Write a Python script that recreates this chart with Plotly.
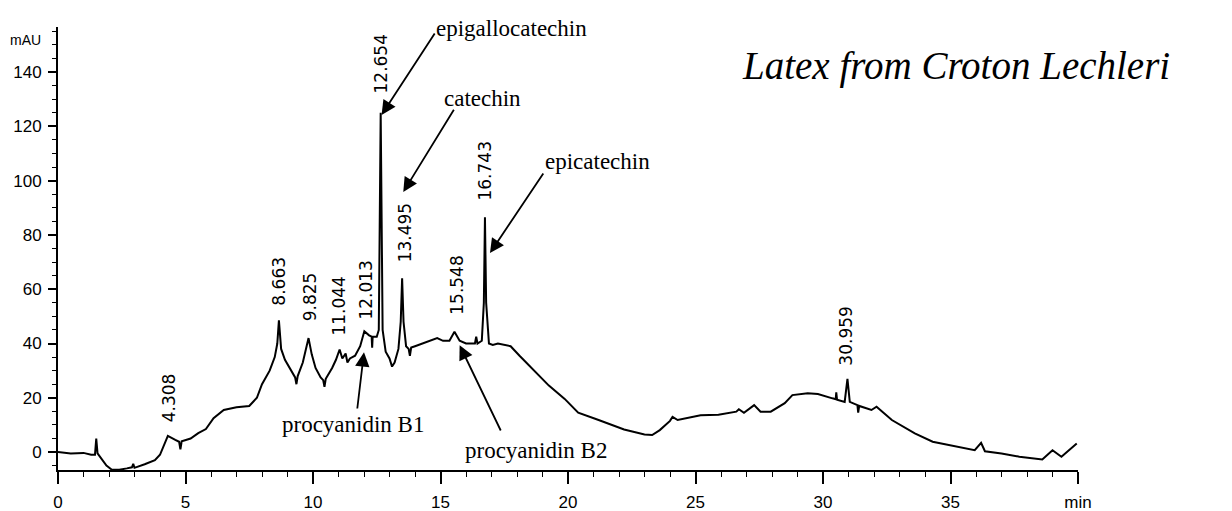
import plotly.graph_objects as go

# Chromatogram trace (retention time in min, absorbance in mAU)
time_min = [0.0, 0.5, 1.0, 1.3, 1.45, 1.5, 1.55, 1.7, 1.9, 2.1, 2.4, 2.7, 2.9, 2.95, 3.0, 3.4, 3.8, 4.0,
            4.308, 4.6, 4.75, 4.8, 4.85, 5.2, 5.5, 5.8, 6.1, 6.5, 7.0, 7.5, 7.8, 8.0, 8.3, 8.5, 8.6,
            8.663, 8.75, 8.9, 9.1, 9.3, 9.35, 9.4, 9.6, 9.825, 9.95, 10.1, 10.3, 10.4, 10.45, 10.5,
            10.75, 10.9, 11.044, 11.15, 11.28, 11.35, 11.45, 11.65, 11.85, 12.013, 12.2, 12.3, 12.32,
            12.34, 12.5, 12.58, 12.654, 12.73, 12.85, 13.0, 13.1, 13.2, 13.35, 13.44, 13.495, 13.55,
            13.65, 13.75, 13.8, 13.85, 14.0, 14.3, 14.6, 14.87, 15.1, 15.35, 15.548, 15.75, 16.0,
            16.35, 16.4, 16.45, 16.62, 16.7, 16.743, 16.79, 16.9, 17.05, 17.25, 17.5, 17.75, 18.1,
            18.6, 19.25, 19.87, 20.4, 21.2, 22.2, 23.0, 23.3, 23.6, 24.0, 24.1, 24.3, 25.2, 25.9,
            26.6, 26.7, 26.9, 27.3, 27.55, 27.95, 28.5, 28.8, 29.4, 29.8, 30.37, 30.5, 30.52, 30.55,
            30.85, 30.959, 31.05, 31.35, 31.38, 31.42, 31.9, 32.1, 32.7, 33.6, 34.3, 35.0, 35.95,
            36.2, 36.35, 37.0, 37.7, 38.6, 39.0, 39.35, 39.95]
absorbance_mau = [0.0, -0.5, -0.3, -1.0, -1.0, 5.0, -0.5, -2.5, -5.0, -6.4, -6.5, -6.0, -5.6, -4.3, -5.8,
                  -4.5, -3.0, -1.0, 6.0, 4.5, 3.8, 1.0, 4.0, 5.0, 7.0, 8.5, 12.5, 15.5, 16.5, 17.0, 20.0,
                  25.0, 30.0, 35.0, 40.0, 48.5, 38.0, 34.0, 31.0, 27.5, 25.0, 28.0, 33.0, 42.0, 36.0,
                  31.0, 27.5, 26.5, 24.0, 27.0, 31.0, 34.0, 37.8, 34.5, 36.3, 33.0, 34.5, 35.5, 39.0,
                  44.5, 43.0, 42.5, 38.5, 42.5, 42.5, 45.0, 125.0, 45.0, 37.0, 34.5, 31.5, 33.0, 38.0,
                  48.0, 64.0, 48.0, 39.0, 38.0, 35.5, 38.5, 39.0, 40.0, 41.0, 42.0, 41.0, 41.0, 44.3,
                  41.0, 40.0, 40.0, 42.5, 40.0, 41.0, 55.0, 86.5, 55.0, 40.0, 39.5, 40.0, 39.5, 39.0,
                  35.5, 30.7, 24.5, 19.6, 14.5, 11.8, 8.3, 6.5, 6.3, 8.1, 11.5, 13.0, 11.8, 13.6, 13.8,
                  14.9, 15.8, 14.5, 17.3, 14.9, 14.9, 18.0, 21.0, 21.7, 21.4, 19.8, 19.5, 22.0, 19.3,
                  18.5, 27.0, 18.5, 17.3, 14.5, 17.0, 15.5, 16.7, 11.8, 6.9, 3.8, 2.6, 0.7, 3.4, 0.3,
                  -0.5, -1.7, -2.7, 0.7, -1.7, 3.2]

# Peak retention-time labels
peak_labels = ["4.308", "8.663", "9.825", "11.044", "12.013", "12.654", "13.495", "15.548", "16.743", "30.959"]
peak_label_x = [4.36, 8.65, 9.89, 11.04, 12.06, 12.65, 13.62, 15.67, 16.76, 30.92]
peak_label_y = [19.9, 63.0, 57.1, 53.8, 59.7, 143.0, 80.7, 61.5, 103.5, 42.7]

# Compound names with arrows
compounds = ["epigallocatechin", "catechin", "epicatechin", "procyanidin B1", "procyanidin B2"]
compound_text_x = [17.8, 16.64, 21.16, 11.58, 18.73]
compound_text_y = [156.2, 130.4, 107.2, 10.3, 0.7]
arrow_tail_x = [14.81, 15.56, 19.07, 11.73, 17.39]
arrow_tail_y = [154.8, 126.7, 103.2, 15.5, 7.4]
arrow_tip_x = [12.69, 13.54, 16.94, 12.0, 15.75]
arrow_tip_y = [124.2, 95.8, 73.3, 36.8, 39.4]

x_tick_vals = [0, 5, 10, 15, 20, 25, 30, 35, 40]
x_tick_text = ["0", "5", "10", "15", "20", "25", "30", "35", "min"]
y_tick_vals = [0, 20, 40, 60, 80, 100, 120, 140]

title_text = "Latex from Croton Lechleri"
y_unit = "mAU"

tick_font = dict(family="Liberation Sans, Arial", size=17, color="black")
unit_font = dict(family="Liberation Sans, Arial", size=14, color="black")
label_font = dict(family="DejaVu Sans, Arial", size=17, color="black")
name_font = dict(family="Liberation Serif, Times New Roman, serif", size=23, color="black")

fig = go.Figure()
fig.add_trace(go.Scatter(x=time_min, y=absorbance_mau, mode="lines",
                         line=dict(color="black", width=2), showlegend=False, hoverinfo="skip"))

annotations = []
for txt, x, y in zip(peak_labels, peak_label_x, peak_label_y):
    annotations.append(dict(x=x, y=y, xref="x", yref="y", text=txt, textangle=-90, showarrow=False,
                            xanchor="center", yanchor="middle", font=label_font))
for txt, x, y in zip(compounds, compound_text_x, compound_text_y):
    annotations.append(dict(x=x, y=y, xref="x", yref="y", text=txt, showarrow=False,
                            xanchor="center", yanchor="middle", font=name_font))
for tx, ty, hx, hy in zip(arrow_tail_x, arrow_tail_y, arrow_tip_x, arrow_tip_y):
    annotations.append(dict(x=hx, y=hy, xref="x", yref="y", ax=tx, ay=ty, axref="x", ayref="y",
                            text="", showarrow=True, arrowhead=2, arrowsize=1.6, arrowwidth=1.8,
                            arrowcolor="black", standoff=0, startstandoff=0))
annotations.append(dict(x=-0.0147, y=0.9707, xref="paper", yref="paper", text=y_unit, showarrow=False,
                        xanchor="right", yanchor="middle", font=unit_font))
annotations.append(dict(x=0.88, y=0.912, xref="paper", yref="paper", text="<i>" + title_text + "</i>",
                        showarrow=False, xanchor="center", yanchor="middle",
                        font=dict(family="Liberation Serif, DejaVu Serif, serif", size=39, color="black")))

fig.update_layout(
    width=1232, height=511,
    margin=dict(l=50, r=162, t=19, b=49),
    paper_bgcolor="white", plot_bgcolor="white",
    annotations=annotations,
    xaxis=dict(range=[0, 40], showline=True, linecolor="black", linewidth=2, showgrid=False, zeroline=False,
               automargin=False, ticklabelstandoff=4,
               ticks="outside", ticklen=12, tickwidth=1.5, tickcolor="black",
               tickvals=x_tick_vals, ticktext=x_tick_text, tickfont=tick_font,
               minor=dict(dtick=1, ticks="outside", ticklen=5, tickwidth=1.2, tickcolor="black")),
    yaxis=dict(range=[-6.6, 156.6], showline=True, linecolor="black", linewidth=2, showgrid=False,
               zeroline=False, automargin=False, ticks="outside", ticklen=8, tickwidth=1.5, tickcolor="black",
               tickvals=y_tick_vals, tickfont=tick_font, ticklabelstandoff=3,
               minor=dict(dtick=5, ticks="outside", ticklen=4, tickwidth=1.2, tickcolor="black")),
)

fig.write_html("out.html")
